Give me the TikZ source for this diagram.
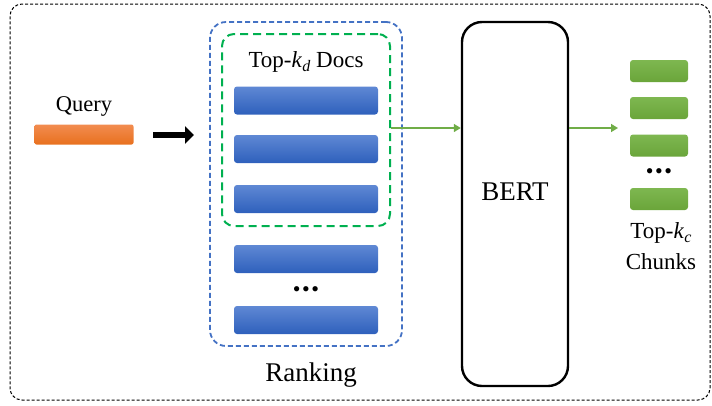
\documentclass[tikz,border=0pt]{standalone}
\usepackage{fontspec}
\setmainfont{Liberation Serif}
\usetikzlibrary{arrows.meta,positioning}
\definecolor{bluedash}{HTML}{4472C4}
\definecolor{greendash}{HTML}{00B050}
\definecolor{arrgreen}{HTML}{70AD47}
\definecolor{btop}{HTML}{5F88D4}
\definecolor{bbot}{HTML}{2E60BC}
\definecolor{otop}{HTML}{F28C50}
\definecolor{obot}{HTML}{E8701E}
\definecolor{gtop}{HTML}{7EB750}
\definecolor{gbot}{HTML}{6AA53A}
\newcommand{\subk}[1]{\textit{k}\kern0.3pt\raisebox{-0.35ex}{\fontsize{16}{16}\selectfont\textit{#1}}}
\newcommand{\mydots}{\fontsize{22}{22}\selectfont\textbullet\kern1.5pt\textbullet\kern1.5pt\textbullet}
\tikzset{
  docbar/.style={rounded corners=3pt, top color=btop, bottom color=bbot, draw=none, minimum width=144pt, minimum height=28pt, inner sep=0pt},
  chunkbar/.style={rounded corners=3pt, top color=gtop, bottom color=gbot, draw=none, minimum width=58pt, minimum height=22pt, inner sep=0pt},
  garrow/.style={arrgreen, line width=1.6pt, -{Triangle[length=7pt,width=8pt]}},
  lbl/.style={inner sep=0pt, font=\fontsize{23}{25}\selectfont}
}
\begin{document}
\begin{tikzpicture}[x=1pt,y=-1pt]
\useasboundingbox (0,0) rectangle (712,405);
% outer frame
\node[draw=black, dashed, dash pattern=on 3pt off 2pt, line width=1pt, rounded corners=12pt, minimum width=700pt, minimum height=396pt, inner sep=0pt] (frame) at (360,202) {};
% query
\node[rounded corners=2pt, top color=otop, bottom color=obot, minimum width=99pt, minimum height=20pt, inner sep=0pt] (qbar) at (84,134.5) {};
\node[lbl, font=\fontsize{22.5}{24}\selectfont] (qtxt) at (84,106) {Query};
\coordinate (qa) at (153,135);
\coordinate (qb) at (194,135);
\draw[line width=6pt, -{Triangle[length=9pt,width=17pt]}] (qa) -- (qb);
% ranking
\node[draw=bluedash, dash pattern=on 5pt off 3pt, line width=1.8pt, rounded corners=16pt, minimum width=192pt, minimum height=324pt, inner sep=0pt] (rank) at (306,184) {};
\node[draw=greendash, dash pattern=on 8pt off 5pt, line width=2pt, rounded corners=12pt, minimum width=168pt, minimum height=192pt, inner sep=0pt] (topd) at (306,130) {};
\node[lbl] (tdtxt) at (306,62) {Top-\subk{d} Docs};
\node[docbar] (d1) at (306,100.5) {};
\node[docbar] (d2) at (306,149) {};
\node[docbar] (d3) at (306,199) {};
\node[docbar] (d4) at (306,259) {};
\node[inner sep=0pt] (ddots) at (306,292) {\mydots};
\node[docbar] (d5) at (306,320) {};
\node[inner sep=0pt, font=\fontsize{27}{29}\selectfont] (rtxt) at (311,375) {Ranking};
% BERT
\node[draw=black, line width=2.4pt, rounded corners=20pt, minimum width=106pt, minimum height=364pt, inner sep=0pt] (bert) at (515,204) {};
\node[inner sep=0pt, font=\fontsize{27}{29}\selectfont] (btxt) at (515,192) {BERT};
% chunks
\node[chunkbar] (c1) at (659,71) {};
\node[chunkbar] (c2) at (659,108) {};
\node[chunkbar] (c3) at (659,145.5) {};
\node[inner sep=0pt] (cdots) at (659,174) {\mydots};
\node[chunkbar] (c4) at (659,199) {};
\node[lbl] (ctxt1) at (661,233) {Top-\subk{c}};
\node[lbl] (ctxt2) at (661,262) {Chunks};
% arrows
\coordinate (bin) at (bert.west |- 0,128);
\coordinate (bout) at (bert.east |- 0,128);
\coordinate (cin) at (618,128);
\draw[garrow] (topd.east |- bin) -- (bin);
\draw[garrow] (bout) -- (cin);
\end{tikzpicture}
\end{document}
